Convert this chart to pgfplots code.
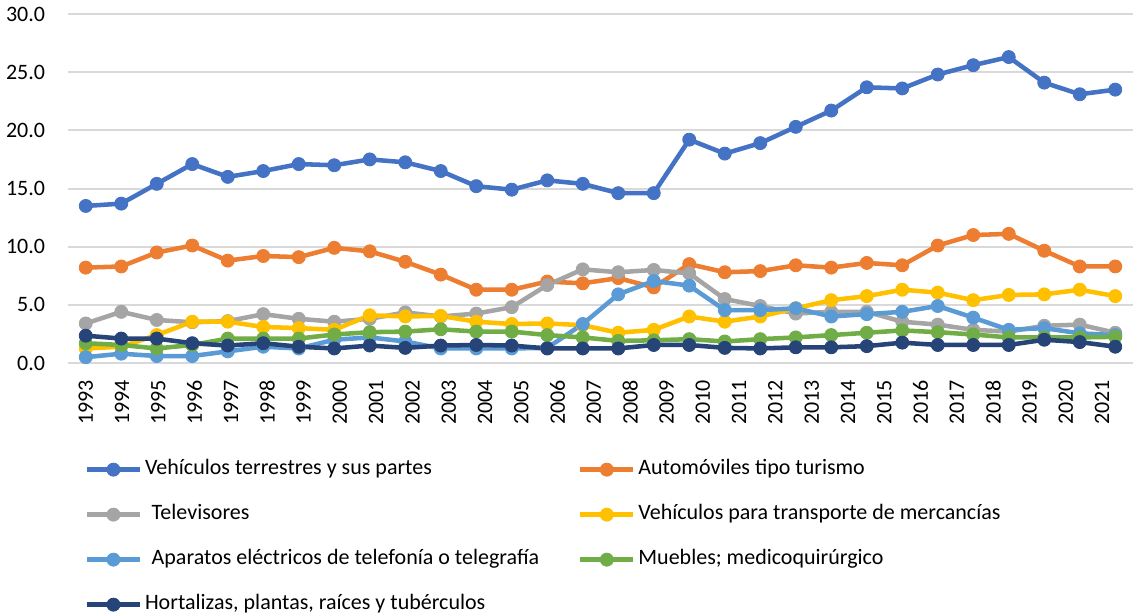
\documentclass[border=0pt]{standalone}
\usepackage{fontspec}
\setmainfont{Carlito}
\usepackage{pgfplots}
\usepackage{pgfplotstable}
\pgfplotsset{compat=1.18}
\usetikzlibrary{calc}

\definecolor{cA}{HTML}{4472C4}
\definecolor{cB}{HTML}{ED7D31}
\definecolor{cC}{HTML}{A5A5A5}
\definecolor{cD}{HTML}{FFC000}
\definecolor{cE}{HTML}{5B9BD5}
\definecolor{cF}{HTML}{70AD47}
\definecolor{cG}{HTML}{264478}
\definecolor{gridc}{HTML}{D9D9D9}

% i = 0 ... 29 (1993 ... 2022)
\pgfplotstableread{
i  veh   aut   tv    mer   apa   mue   hor
0  13.5  8.2   3.4   1.25  0.5   1.7   2.35
1  13.7  8.3   4.4   1.4   0.8   1.55  2.1
2  15.4  9.5   3.7   2.4   0.6   1.25  2.1
3  17.1  10.1  3.5   3.55  0.6   1.55  1.7
4  16.0  8.8   3.6   3.55  1.0   2.1   1.5
5  16.5  9.2   4.2   3.1   1.4   2.1   1.7
6  17.1  9.1   3.8   3.0   1.25  2.1   1.4
7  17.0  9.9   3.55  2.85  2.0   2.45  1.25
8  17.5  9.6   3.8   4.1   2.2   2.65  1.5
9  17.25 8.7   4.35  4.0   1.85  2.7   1.3
10 16.5  7.6   4.0   4.05  1.25  2.9   1.5
11 15.2  6.3   4.25  3.55  1.25  2.7   1.55
12 14.9  6.3   4.8   3.35  1.25  2.7   1.5
13 15.7  7.0   6.7   3.4   1.3   2.4   1.25
14 15.4  6.85  8.05  3.25  3.35  2.2   1.25
15 14.6  7.3   7.8   2.6   5.9   1.9   1.25
16 14.6  6.5   8.0   2.85  7.05  1.95  1.55
17 19.2  8.5   7.7   4.0   6.65  2.05  1.55
18 18.0  7.8   5.5   3.55  4.55  1.85  1.3
19 18.9  7.9   4.9   4.0   4.55  2.05  1.25
20 20.3  8.4   4.25  4.7   4.7   2.2   1.35
21 21.7  8.2   4.4   5.4   4.0   2.4   1.35
22 23.7  8.6   4.4   5.75  4.2   2.6   1.45
23 23.6  8.4   3.55  6.3   4.4   2.8   1.75
24 24.8  10.1  3.3   6.05  4.9   2.65  1.55
25 25.6  11.0  2.85  5.4   3.9   2.45  1.55
26 26.3  11.1  2.7   5.85  2.85  2.2   1.55
27 24.1  9.65  3.2   5.9   3.0   2.2   2.0
28 23.1  8.3   3.3   6.3   2.55  2.2   1.8
29 23.5  8.3   2.6   5.75  2.4   2.25  1.4
}\datatable

\begin{document}
\begin{tikzpicture}
\begin{axis}[
    scale only axis,
    width=798.75pt, height=261.75pt,
    xmin=-0.5, xmax=29.5,
    ymin=0, ymax=30,
    axis line style={draw=none},
    ytick={0,5,...,30},
    ymajorgrids,
    grid style={gridc, line width=1.5pt},
    major tick length=0pt,
    yticklabel style={font=\fontsize{16.5}{18}\selectfont, anchor=east, inner sep=0pt},
    yticklabel shift=17pt,
    /pgf/number format/.cd, fixed, fixed zerofill, precision=1, assume math mode=true,
    /pgfplots/.cd,
    xtick={0,1.0225,...,29},
    xticklabels={1993,1994,1995,1996,1997,1998,1999,2000,2001,2002,2003,2004,2005,2006,2007,2008,2009,2010,2011,2012,2013,2014,2015,2016,2017,2018,2019,2020,2021},
    xticklabel style={font=\fontsize{16.5}{18}\selectfont, rotate=90, anchor=east, inner sep=0pt},
    xticklabel shift=12.75pt,
    every axis plot/.append style={line width=3.4pt, mark=*, mark size=4.9pt,
        mark options={line width=0.6pt}},
    legend columns=2,
    legend cell align=left,
    legend image code/.code={
        \draw[mark repeat=2, mark phase=2, #1] plot coordinates {(0pt,0pt) (20pt,0pt) (40pt,0pt)};
    },
    legend style={
        at={(axis description cs:0.0155,-0.275)}, anchor=north west,
        draw=none, fill=none, inner sep=0pt, outer sep=0pt,
        font=\fontsize{16.5}{18}\selectfont,
        row sep=17.75pt,
        nodes={inner sep=0pt, outer sep=0pt, text height=12pt, text depth=4pt},
        /tikz/every odd column/.append style={column sep=2pt},
        /tikz/every even column/.append style={column sep=29pt},
    },
]
\coordinate (O) at (rel axis cs:0,0);
\addplot[color=cA] table[x=i, y=veh] {\datatable};
\addlegendentry{Vehículos terrestres y sus partes}
\addplot[color=cB] table[x=i, y=aut] {\datatable};
\addlegendentry{Automóviles tipo turismo}
\addplot[color=cC] table[x=i, y=tv] {\datatable};
\addlegendentry{\hspace{5pt}Televisores}
\addplot[color=cD] table[x=i, y=mer] {\datatable};
\addlegendentry{Vehículos para transporte de mercancías}
\addplot[color=cE] table[x=i, y=apa] {\datatable};
\addlegendentry{\hspace{5pt}Aparatos eléctricos de telefonía o telegrafía}
\addplot[color=cF] table[x=i, y=mue] {\datatable};
\addlegendentry{Muebles; medicoquirúrgico}
\addplot[color=cG] table[x=i, y=hor] {\datatable};
\addlegendentry{Hortalizas, plantas, raíces y tubérculos}
\end{axis}
\pgfresetboundingbox
\path[use as bounding box] ($(O)+(-51pt,-189pt)$) rectangle ($(O)+(802.5pt,272.25pt)$);
\end{tikzpicture}
\end{document}
